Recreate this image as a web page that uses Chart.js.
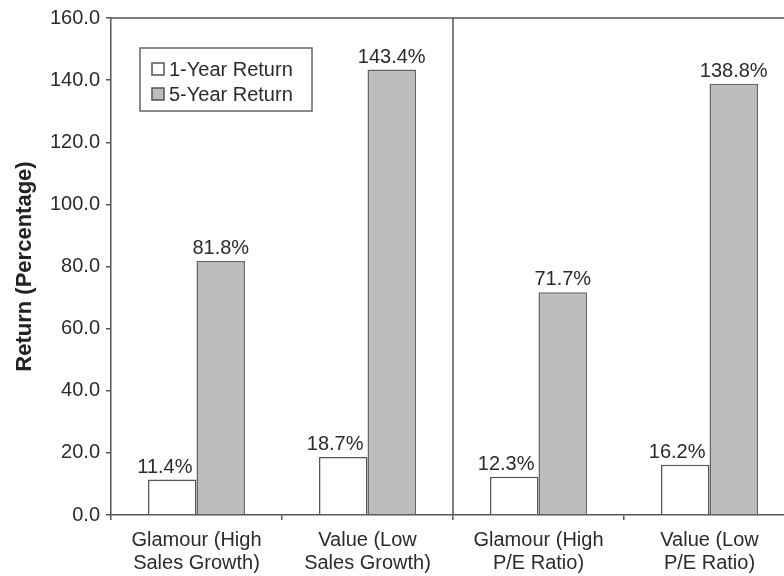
<!DOCTYPE html>
<html>
<head>
<meta charset="utf-8">
<script src="https://cdn.jsdelivr.net/npm/chart.js@4.4.0/dist/chart.umd.min.js"></script>
<style>
	html, body { margin: 0; padding: 0; background: #fff; overflow: hidden; }
	#wrap { width: 800px; height: 576px; }
</style>
</head>
<body>
<div id="wrap"><canvas id="chart" width="800" height="576"></canvas></div>
<script>
(function() {
	'use strict';

	// data
	const categories = [
		['Glamour (High', 'Sales Growth)'],
		['Value (Low', 'Sales Growth)'],
		['Glamour (High', 'P/E Ratio)'],
		['Value (Low', 'P/E Ratio)']
	];
	const oneYear = [11.4, 18.7, 12.3, 16.2];
	const fiveYear = [81.8, 143.4, 71.7, 138.8];
	const seriesNames = ['1-Year Return', '5-Year Return'];
	const yTicks = [0, 20, 40, 60, 80, 100, 120, 140, 160];

	const FONT = '"Liberation Sans", Arial, Helvetica, sans-serif';
	const INK = '#2b2b2b';
	const LINE = '#555';

	// labels over bars, legend box, top border and the middle divider
	const decorations = {
		id: 'decorations',
		afterDatasetsDraw(chart) {
			const ctx = chart.ctx;
			const area = chart.chartArea;
			const x = chart.scales.x;

			ctx.save();
			ctx.strokeStyle = LINE;
			ctx.lineWidth = 1.5;
			ctx.beginPath();
			ctx.moveTo(area.left, area.top);
			ctx.lineTo(area.right, area.top);
			const mid = (x.getPixelForValue(1) + x.getPixelForValue(2)) / 2;
			ctx.moveTo(mid, area.top);
			ctx.lineTo(mid, area.bottom);
			ctx.stroke();

			ctx.font = '20px ' + FONT;
			ctx.fillStyle = INK;
			ctx.textBaseline = 'alphabetic';
			chart.data.datasets.forEach((ds, di) => {
				const meta = chart.getDatasetMeta(di);
				meta.data.forEach((bar, i) => {
					const txt = ds.data[i].toFixed(1) + '%';
					if (di === 0) {
						ctx.textAlign = 'right';
						ctx.fillText(txt, bar.x + bar.width / 2 - 4, bar.y - 7);
					} else {
						ctx.textAlign = 'center';
						ctx.fillText(txt, bar.x, bar.y - 7);
					}
				});
			});

			// legend
			const lx = area.left + 29, ly = area.top + 30;
			ctx.lineWidth = 1.5;
			ctx.strokeStyle = '#666';
			ctx.strokeRect(lx, ly, 172, 63);
			ctx.textAlign = 'left';
			ctx.textBaseline = 'middle';
			ctx.font = '20px ' + FONT;
			chart.data.datasets.forEach((ds, di) => {
				const cy = ly + 21 + di * 25;
				ctx.fillStyle = ds.backgroundColor;
				ctx.fillRect(lx + 12, cy - 6, 12, 12);
				ctx.strokeStyle = LINE;
				ctx.strokeRect(lx + 12, cy - 6, 12, 12);
				ctx.fillStyle = INK;
				ctx.fillText(ds.label, lx + 29, cy + 1);
			});
			ctx.restore();
		}
	};

	new Chart(document.getElementById('chart').getContext('2d'), {
		type: 'bar',
		data: {
			labels: categories,
			datasets: [
				{ label: seriesNames[0], data: oneYear, backgroundColor: '#ffffff', borderColor: LINE, borderWidth: 1.5 },
				{ label: seriesNames[1], data: fiveYear, backgroundColor: '#bdbdbd', borderColor: '#666', borderWidth: 1.5 }
			]
		},
		options: {
			responsive: false,
			animation: false,
			layout: { padding: { top: 17, right: 5, left: 0, bottom: 0 } },
			datasets: { bar: { categoryPercentage: 0.567, barPercentage: 1 } },
			plugins: { legend: { display: false }, tooltip: { enabled: false } },
			scales: {
				x: {
					afterFit: s => { s.height = 61; },
					grid: { offset: true, drawOnChartArea: false, drawTicks: true, tickLength: 5, color: LINE, lineWidth: 1.5 },
					border: { display: true, color: LINE, width: 1.5 },
					ticks: { color: INK, padding: 9, font: { family: FONT, size: 20, lineHeight: 1.15 }, maxRotation: 0, autoSkip: false }
				},
				y: {
					min: 0,
					max: 160,
					afterFit: s => { s.width = 111; },
					afterBuildTicks: s => { s.ticks = yTicks.map(v => ({ value: v })); },
					grid: { drawOnChartArea: false, drawTicks: true, tickLength: 5, color: LINE, lineWidth: 1.5 },
					border: { display: true, color: LINE, width: 1.5 },
					ticks: { color: INK, padding: 6, font: { family: FONT, size: 20 }, callback: v => v.toFixed(1) },
					title: {
						display: true,
						text: 'Return (Percentage)',
						color: '#222',
						padding: { top: 12, bottom: 0 },
						font: { family: FONT, size: 22, weight: 'bold' }
					}
				}
			}
		},
		plugins: [decorations]
	});
})();
</script>
</body>
</html>
